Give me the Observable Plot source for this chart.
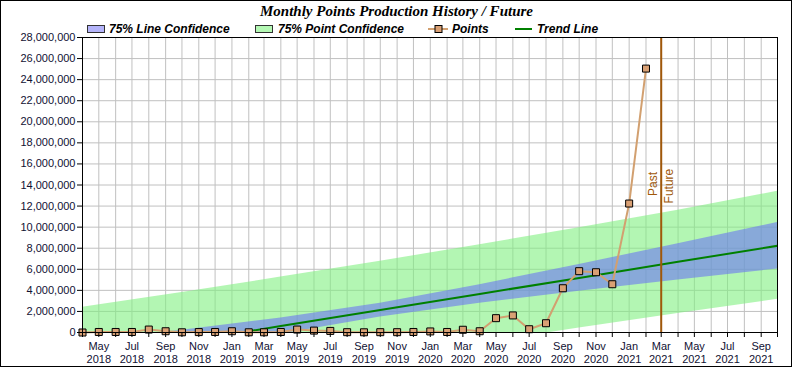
<!DOCTYPE html>
<html><head><meta charset="utf-8">
<script src="https://cdn.jsdelivr.net/npm/d3@7"></script>
<script src="https://cdn.jsdelivr.net/npm/@observablehq/plot@0.6"></script>
<style>
body{margin:0;background:#fff;}
#wrap{position:relative;width:793px;height:369px;overflow:hidden;font-family:"Liberation Sans",Arial,sans-serif;}
#chart{position:absolute;left:0;top:0;}
#border{position:absolute;left:0;top:0;width:790px;height:365px;border:1px solid #000;pointer-events:none;}
#title{position:absolute;left:0;width:793px;top:3px;line-height:18px;text-align:center;font:italic bold 15px "Liberation Serif","Times New Roman",serif;color:#000;}
.lt{position:absolute;top:22px;line-height:14px;font:italic bold 12px "Liberation Sans",Arial,sans-serif;color:#000;white-space:nowrap;}
.sw{position:absolute;top:25px;width:16px;height:6px;border:1px solid #333;}
.ls{position:absolute;top:24px;}
</style>
</head><body>
<div id="wrap">
  <div id="chart"></div>
  <div id="title">Monthly Points Production History / Future</div>
  <div class="sw" style="left:87px;background:#b4b4fa;"></div>
  <div class="lt" style="left:109px;">75% Line Confidence</div>
  <div class="sw" style="left:255px;background:#b4f8b4;"></div>
  <div class="lt" style="left:278px;">75% Point Confidence</div>
  <svg class="ls" style="left:428px;" width="22" height="10"><line x1="0" y1="5" x2="20" y2="5" stroke="#d2a070" stroke-width="2"/><rect x="7" y="1.5" width="7" height="7" fill="#d9a074" stroke="#000" stroke-width="1"/></svg>
  <div class="lt" style="left:452px;">Points</div>
  <svg class="ls" style="left:515px;" width="18" height="10"><line x1="0" y1="5" x2="17" y2="5" stroke="#008000" stroke-width="2"/></svg>
  <div class="lt" style="left:537px;">Trend Line</div>
  <div id="border"></div>
</div>
<script>
// Monthly points (history)
const pointMonths = ["2018-04","2018-05","2018-06","2018-07","2018-08","2018-09","2018-10","2018-11","2018-12",
  "2019-01","2019-02","2019-03","2019-04","2019-05","2019-06","2019-07","2019-08","2019-09","2019-10","2019-11","2019-12",
  "2020-01","2020-02","2020-03","2020-04","2020-05","2020-06","2020-07","2020-08","2020-09","2020-10","2020-11","2020-12",
  "2021-01","2021-02"];
const pointValues = [0, 50000, 50000, 50000, 280000, 120000, 20000, 40000, 50000,
  120000, 20000, 20000, 50000, 280000, 180000, 150000, 30000, 20000, 30000, 30000, 50000,
  100000, 50000, 260000, 120000, 1360000, 1620000, 310000, 880000, 4200000, 5820000, 5720000, 4580000,
  12240000, 25050000];

// Trend line and confidence bands
const bandMonths = ["2018-04","2018-10","2019-04","2019-10","2020-04","2020-10","2021-04","2021-10"];
const trendValues = [-2440000, -920000, 610000, 2130000, 3660000, 5180000, 6710000, 8230000];
const lineConfUpper = [-870000, 210000, 1380000, 2780000, 4540000, 6450000, 8430000, 10430000];
const lineConfLower = [-4010000, -2050000, -160000, 1480000, 2780000, 3910000, 4990000, 6030000];
const pointConfUpper = [2400000, 3790000, 5260000, 6760000, 8330000, 9940000, 11610000, 13400000];
const pointConfLower = [-7280000, -5630000, -4040000, -2500000, -1010000, 420000, 1810000, 3150000];

// Axis ticks
const xStart = "2018-04", xEnd = "2021-10";
const pastFutureMonth = "2021-03";
const yTicks = [0,2000000,4000000,6000000,8000000,10000000,12000000,14000000,16000000,18000000,20000000,22000000,24000000,26000000,28000000];
const monthNames = ["Jan","Feb","Mar","Apr","May","Jun","Jul","Aug","Sep","Oct","Nov","Dec"];

const parse = s => new Date(s + "-01T00:00:00Z");
const points = pointMonths.map((m, i) => ({date: parse(m), value: pointValues[i]}));
const bands = bandMonths.map((m, i) => ({
  date: parse(m), trend: trendValues[i],
  lu: lineConfUpper[i], ll: lineConfLower[i],
  pu: pointConfUpper[i], pl: pointConfLower[i]
}));
const xTicks = d3.utcMonth.range(parse(xStart), d3.utcMonth.offset(parse(xEnd), 1));
const pf = parse(pastFutureMonth);

const font = "Liberation Sans, Arial, sans-serif";
const chart = Plot.plot({
  width: 793, height: 369,
  marginLeft: 82, marginRight: 16, marginTop: 37, marginBottom: 37,
  style: {fontFamily: font, fontSize: "11px", background: "transparent", color: "#111133"},
  x: {type: "utc", domain: [parse(xStart), parse(xEnd)]},
  y: {domain: [0, 28000000]},
  marks: [
    Plot.gridX(xTicks, {stroke: "#c0c0c0", strokeOpacity: 1, strokeWidth: 1}),
    Plot.gridY(yTicks, {stroke: "#c0c0c0", strokeOpacity: 1, strokeWidth: 1}),
    Plot.areaY(bands, {x: "date", y1: "pl", y2: "pu", fill: "#80f080", fillOpacity: 0.6, clip: true}),
    Plot.areaY(bands, {x: "date", y1: "ll", y2: "lu", fill: "#6b77f1", fillOpacity: 0.6, clip: true}),
    Plot.line(bands, {x: "date", y: "trend", stroke: "#008000", strokeWidth: 2, clip: true}),
    Plot.ruleX([pf], {stroke: "#a0580a", strokeWidth: 2}),
    Plot.text(["Past"], {x: () => pf, y: () => 14100000, rotate: -90, dx: -8, fill: "#a0580a", fontSize: 12, textAnchor: "middle"}),
    Plot.text(["Future"], {x: () => pf, y: () => 13900000, rotate: -90, dx: 8, fill: "#a0580a", fontSize: 12, textAnchor: "middle"}),
    Plot.line(points, {x: "date", y: "value", stroke: "#d2a070", strokeWidth: 2}),
    Plot.dot(points, {x: "date", y: "value", symbol: "square", r: 3.95, fill: "#d9a074", stroke: "#000", strokeWidth: 1}),
    Plot.axisY(yTicks, {tickFormat: d3.format(","), tickSize: 5, tickPadding: 2, fontSize: 11, stroke: "#000", fill: "#111133"}),
    Plot.axisX(xTicks, {
      tickSize: 5, tickPadding: 3, fontSize: 11, stroke: "#000", fill: "#111133", lineHeight: 1.2,
      tickFormat: d => d.getUTCMonth() % 2 === 0 ? `${monthNames[d.getUTCMonth()]}\n${d.getUTCFullYear()}` : ""
    }),
    Plot.frame({stroke: "#000", strokeWidth: 1})
  ]
});
document.getElementById("chart").appendChild(chart);
</script>
</body></html>
